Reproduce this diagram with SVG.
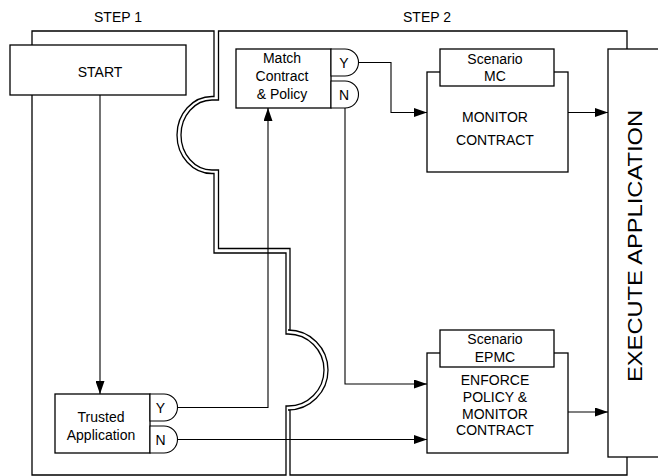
<svg xmlns="http://www.w3.org/2000/svg" width="658" height="476" viewBox="0 0 658 476">
<style>
text{font-family:"Liberation Sans",Arial,sans-serif;font-size:14px;fill:#000;text-anchor:middle}
.frame{fill:none;stroke:#000;stroke-width:1.3}
.box{fill:#fff;stroke:#000;stroke-width:1.3}
.gate{fill:#fff;stroke:#000;stroke-width:1.1}
.conn{fill:none;stroke:#000;stroke-width:1.1}
.big{font-size:20px}
</style>
<defs>
<marker id="arr" markerUnits="userSpaceOnUse" markerWidth="13" markerHeight="9" refX="13" refY="4.5" orient="auto">
<path d="M0,0 L13,4.5 L0,9 Z" fill="#000"/>
</marker>
</defs>
<rect width="658" height="476" fill="#fff"/>
<g id="step1">
<path class="frame" d="M32,31 H214 V96.5 H212 A35,38.5 0 0 0 212,173.5 H214 V253 H286 V334 H288 A36,36 0 0 1 288,406 H286 V475 H32 Z"/>
<text x="118" y="22">STEP 1</text>
</g>
<g id="step2">
<path class="frame" d="M218.5,31 H627 V475 H290 V410 H288 A40,40 0 0 0 288,330 H290 V248.5 H218.5 V170 H212 A31,35 0 0 1 212,100 H218.5 Z"/>
<text x="427" y="22">STEP 2</text>
</g>
<g id="connectors">
<path class="conn" d="M100,95 V394" marker-end="url(#arr)"/>
<path class="conn" d="M177.5,407.5 H268 V108" marker-end="url(#arr)"/>
<path class="conn" d="M177.5,439.5 H427" marker-end="url(#arr)"/>
<path class="conn" d="M358.5,62.5 H391 V112.5 H427" marker-end="url(#arr)"/>
<path class="conn" d="M345,108 V384 H427" marker-end="url(#arr)"/>
<path class="conn" d="M568,112.5 H608" marker-end="url(#arr)"/>
<path class="conn" d="M568,412 H608" marker-end="url(#arr)"/>
</g>
<g id="start">
<rect class="box" x="10" y="45" width="176" height="50"/>
<text x="100" y="77">START</text>
</g>
<g id="trusted">
<rect class="box" x="55" y="394" width="95" height="59"/>
<text x="101" y="421.5">Trusted</text>
<text x="101" y="440">Application</text>
<path class="gate" d="M150,394 H164 A13.5,13.5 0 0 1 164,421 H150 Z"/>
<text x="160.5" y="413">Y</text>
<path class="gate" d="M150,426 H164 A13.5,13.5 0 0 1 164,453 H150 Z"/>
<text x="160.5" y="444.5">N</text>
</g>
<g id="match">
<rect class="box" x="236" y="49" width="95" height="59"/>
<text x="282" y="63">Match</text>
<text x="282" y="81">Contract</text>
<text x="282" y="99">&amp; Policy</text>
<path class="gate" d="M331,49 H345 A13.5,13.5 0 0 1 345,76 H331 Z"/>
<text x="344" y="67.5">Y</text>
<path class="gate" d="M331,81 H345 A13.5,13.5 0 0 1 345,108 H331 Z"/>
<text x="344" y="99.5">N</text>
</g>
<g id="monitor">
<rect class="box" x="427" y="72" width="141" height="100"/>
<rect class="box" x="440" y="49" width="114" height="37"/>
<text x="495" y="63.5">Scenario</text>
<text x="495" y="81">MC</text>
<text x="495" y="122">MONITOR</text>
<text x="495" y="145">CONTRACT</text>
</g>
<g id="enforce">
<rect class="box" x="427" y="353" width="141" height="100"/>
<rect class="box" x="440" y="330" width="114" height="37"/>
<text x="495" y="344">Scenario</text>
<text x="495" y="362">EPMC</text>
<text x="495" y="385">ENFORCE</text>
<text x="495" y="402">POLICY &amp;</text>
<text x="495" y="418.5">MONITOR</text>
<text x="495" y="435">CONTRACT</text>
</g>
<g id="execute">
<rect class="box" x="608" y="49" width="60" height="408"/>
<text class="big" transform="translate(642,246) rotate(-90)" x="0" y="0" textLength="272" lengthAdjust="spacingAndGlyphs">EXECUTE APPLICATION</text>
</g>
</svg>
